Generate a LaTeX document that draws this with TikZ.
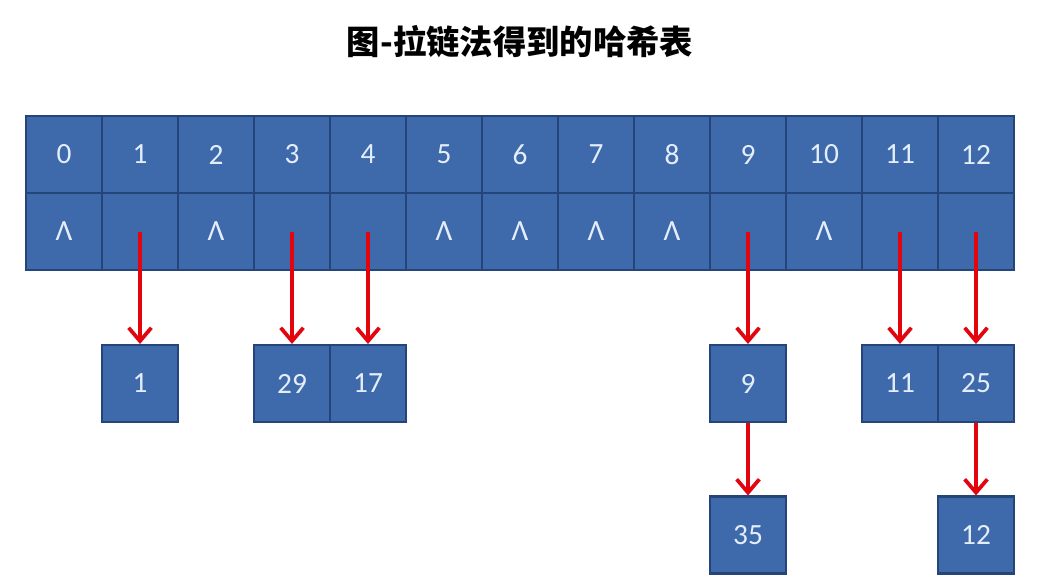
\documentclass[tikz,border=0pt]{standalone}
\usepackage{fontspec}
\setmainfont{Carlito}
\newfontfamily\cjk{Noto Sans CJK SC}
\definecolor{cellblue}{HTML}{3E69AB}
\definecolor{edgeblue}{HTML}{25457A}
\definecolor{linkred}{HTML}{E3050D}
\definecolor{digit}{HTML}{E4EEFA}
\usetikzlibrary{arrows.meta, positioning}

\tikzset{
  cell/.style={draw=edgeblue, line width=1.8pt, fill=cellblue, text=digit,
    minimum width=57pt, minimum height=57.5pt, inner sep=0pt,
    font=\fontsize{22}{26}\selectfont},
  link/.style={draw=linkred, line width=2.8pt,
    -{Straight Barb[length=10pt, width=17pt, line width=2.8pt]}}
}

\begin{document}
\begin{tikzpicture}[x=0.75pt, y=-0.75pt]
  \useasboundingbox (0,0) rectangle (1048,586);

  % --- title ---
  \node (title) at (520,42) {\cjk\bfseries\fontsize{25}{28}\selectfont 图-拉链法得到的哈希表};

  % --- hash table: index row and pointer row ---
  \foreach \i in {0,...,12} {
    \node[cell] (h\i) at (64+76*\i,154.5) {\i};
  }
  \foreach \i/\t in {0/Λ,1/,2/Λ,3/,4/,5/Λ,6/Λ,7/Λ,8/Λ,9/,10/Λ,11/,12/} {
    \node[cell] (p\i) at (64+76*\i,231.5) {\t};
  }

  % --- chain nodes ---
  \node[cell] (n1) at (p1 |- 0,383.5) {1};
  \node[cell] (n29) at (p3 |- 0,383.5) {29};
  \node[cell] (n17) at (p4 |- 0,383.5) {17};
  \node[cell] (n9) at (p9 |- 0,383.5) {9};
  \node[cell] (n11) at (p11 |- 0,383.5) {11};
  \node[cell] (n25) at (p12 |- 0,383.5) {25};
  \node[cell] (n35) at (p9 |- 0,535) {35};
  \node[cell] (n12) at (p12 |- 0,535) {12};

  % --- links ---
  \draw[link] (p1.center) -- (n1.north);
  \draw[link] (p3.center) -- (n29.north);
  \draw[link] (p4.center) -- (n17.north);
  \draw[link] (p9.center) -- (n9.north);
  \draw[link] (p11.center) -- (n11.north);
  \draw[link] (p12.center) -- (n25.north);
  \draw[link] (n9.south) -- (n35.north);
  \draw[link] (n25.south) -- (n12.north);
\end{tikzpicture}
\end{document}
